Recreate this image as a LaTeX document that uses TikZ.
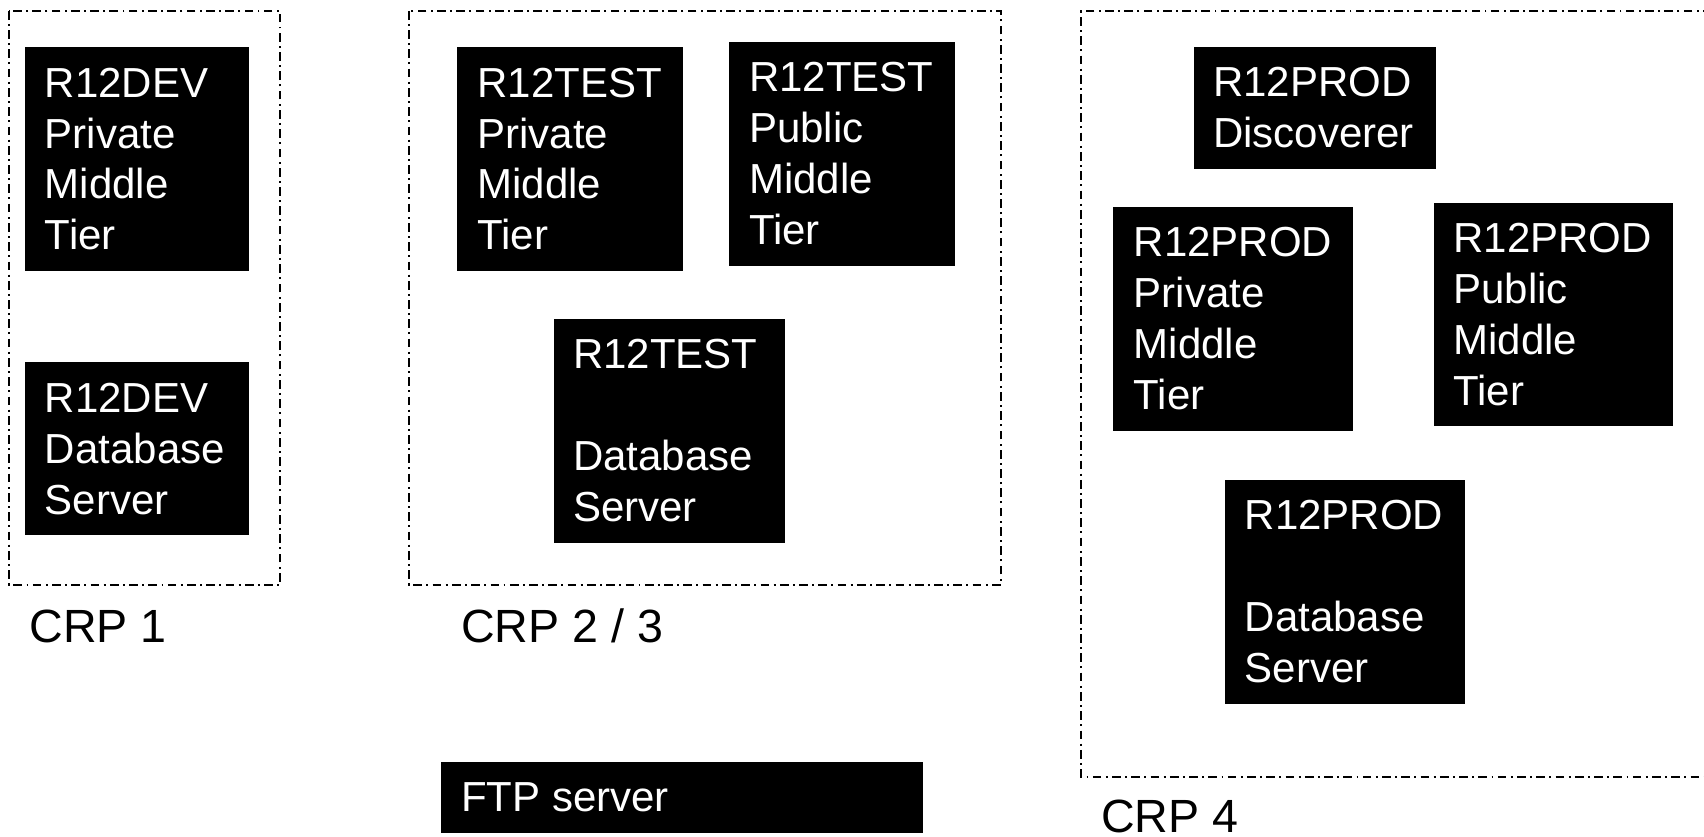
\documentclass[tikz,border=0pt]{standalone}
\usepackage{fontspec}
\setmainfont{Liberation Sans}
\begin{document}
\begin{tikzpicture}[x=0.02cm,y=-0.02cm,
  blk/.style={fill=black, draw=none, inner sep=0pt, anchor=north west},
  btxt/.style={text=white, align=left, inner sep=0pt, anchor=west,
    font=\fontsize{22pt}{26.7pt}\selectfont},
  crp/.style={draw=black, line width=0.95pt,
    dash pattern=on 0.16cm off 0.08cm on 0.035cm off 0.08cm},
  crplbl/.style={inner sep=0pt, anchor=west, font=\fontsize{24.4pt}{29pt}\selectfont}]
\useasboundingbox (0,0) rectangle (1568,770);
\newcommand\srvbox[7]{%
  \node[blk, minimum width=#4*0.02cm, minimum height=#5*0.02cm] (#1) at (#2,#3) {};
  \node[btxt] (#1t) at ([xshift=#6*0.02cm]#1.west) {#7};}
% CRP containers
\draw[crp] (8,10) rectangle (258,538);
\draw[crp] (376,10) rectangle (921,538);
\draw[crp] (1575,10) -- (995,10) -- (995,715) -- (1575,715);
% labels
\node[crplbl] (l1) at (27,576) {CRP 1};
\node[crplbl] (l2) at (424,576) {CRP 2 / 3};
\node[crplbl] (l4) at (1013,751) {CRP 4};
% servers
\srvbox{devp}{23}{43}{206}{206}{18}{R12DEV\\Private\\Middle\\Tier}
\srvbox{devdb}{23}{333}{206}{159}{18}{R12DEV\\Database\\Server}
\srvbox{testp}{420}{43}{208}{206}{19}{R12TEST\\Private\\Middle\\Tier}
\srvbox{testpub}{670}{38}{208}{206}{19}{R12TEST\\Public\\Middle\\Tier}
\srvbox{testdb}{509}{293}{213}{206}{18}{R12TEST\\\mbox{}\\Database\\Server}
\srvbox{proddisc}{1098}{43}{223}{112}{18}{R12PROD\\Discoverer}
\srvbox{prodp}{1024}{190}{221}{206}{19}{R12PROD\\Private\\Middle\\Tier}
\srvbox{prodpub}{1319}{186}{220}{206}{18}{R12PROD\\Public\\Middle\\Tier}
\srvbox{proddb}{1127}{441}{221}{206}{18}{R12PROD\\\mbox{}\\Database\\Server}
\srvbox{ftp}{405}{701}{444}{65}{19}{FTP server}
\end{tikzpicture}
\end{document}
